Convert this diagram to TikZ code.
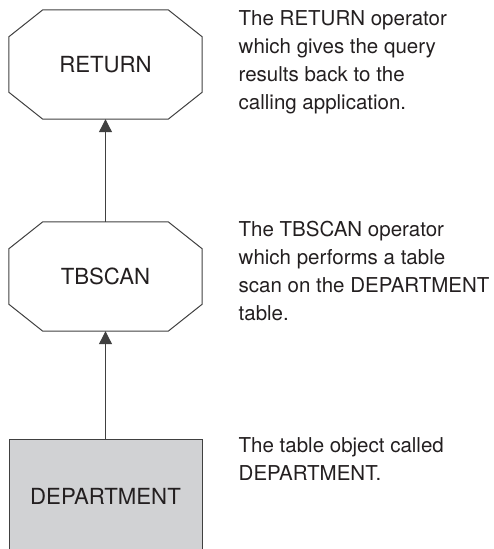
\documentclass[tikz,border=0pt]{standalone}
\usepackage{fontspec}
\setmainfont{TeX Gyre Heros}
\usetikzlibrary{arrows.meta}
\definecolor{ink}{HTML}{231F20}
\definecolor{edge}{HTML}{404040}
\definecolor{tablefill}{HTML}{D1D2D4}

% Octagonal outline drawn around a named operator node
\newcommand\octagonoutline[1]{%
  \draw[octline] ([xshift=34pt]#1.north west) -- ([xshift=-34pt]#1.north east)
    -- ([yshift=-27pt]#1.north east) -- ([yshift=27pt]#1.south east)
    -- ([xshift=-34pt]#1.south east) -- ([xshift=34pt]#1.south west)
    -- ([yshift=27pt]#1.south west) -- ([yshift=-27pt]#1.north west) -- cycle;}

\begin{document}
\begin{tikzpicture}[x=1pt,y=-1pt,
  opbox/.style={minimum width=193pt,minimum height=109pt,inner sep=0pt,
    font=\fontsize{22.2}{26}\selectfont,text=ink},
  tablebox/.style={draw=edge,fill=tablefill,line width=1pt,minimum width=193pt,
    minimum height=114pt,inner sep=0pt,font=\fontsize{22.2}{26}\selectfont,text=ink},
  note/.style={anchor=north west,inner sep=0pt,align=left,
    font=\fontsize{20.5}{28}\selectfont,text=ink},
  flow/.style={draw=edge,line width=1.1pt,-{Triangle[width=13pt,length=13pt]}},
  octline/.style={draw=edge,line width=1pt}]
\useasboundingbox (0,0) rectangle (494,549);

% operators and the table object
\node[opbox] (ret) at (105.5,64.5) {RETURN};
\octagonoutline{ret}
\node[opbox] (tb) at (105.5,276.5) {TBSCAN};
\octagonoutline{tb}
\node[tablebox] (dept) at (105.5,496) {DEPARTMENT};

% data flow
\draw[flow] (tb.north) -- (ret.south);
\draw[flow] (dept.north) -- (tb.south);

% descriptions
\node[note] (n1) at (238.5,10.5) {The RETURN operator\\which gives the query\\results back to the\\calling application.};
\node[note] (n2) at (238.5,220.5) {The TBSCAN operator\\which performs a table\\scan on the DEPARTMENT\\table.};
\node[note] (n3) at (238.5,437.5) {The table object called\\DEPARTMENT.};
\end{tikzpicture}
\end{document}
